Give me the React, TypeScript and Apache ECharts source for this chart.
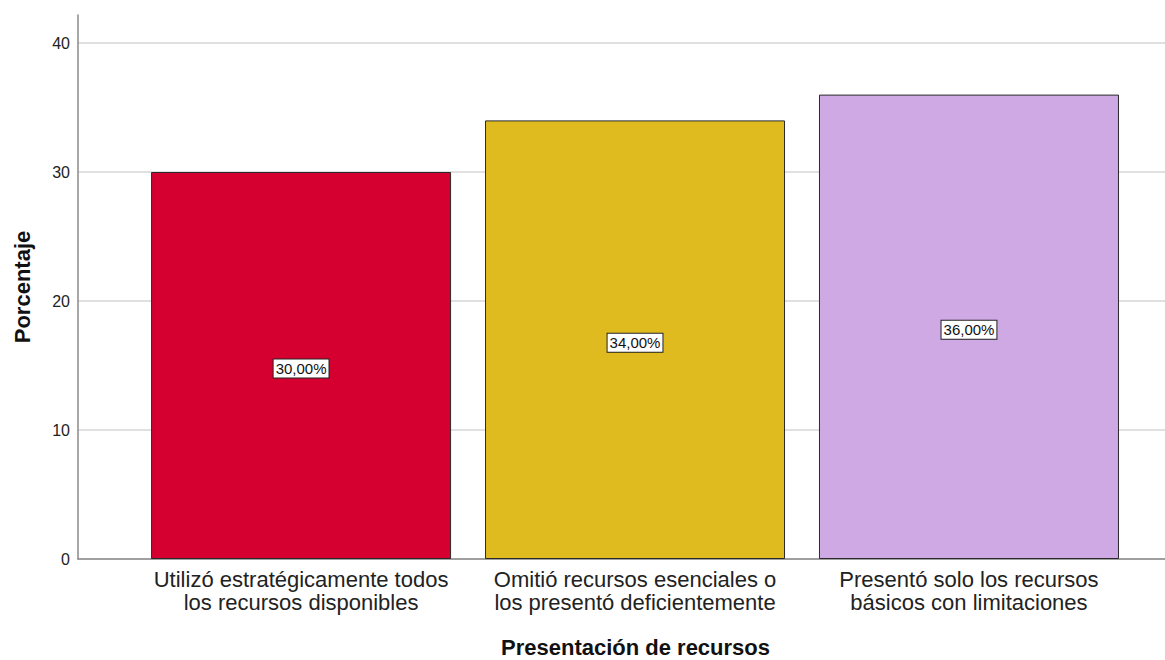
import React, { useEffect, useRef } from "react";
import * as echarts from "echarts";

const categories = [
  "Utilizó estratégicamente todos\nlos recursos disponibles",
  "Omitió recursos esenciales o\nlos presentó deficientemente",
  "Presentó solo los recursos\nbásicos con limitaciones",
];
const values = [30, 34, 36];
const colors = ["#d60030", "#dfbb1f", "#cfa9e4"];
const yTicks = [0, 10, 20, 30, 40];

const FONT = "'Liberation Sans', Arial, sans-serif";

export default function App() {
  const ref = useRef<HTMLDivElement>(null);
  useEffect(() => {
    document.body.style.margin = "0";
    document.body.style.overflow = "hidden";
    if (!ref.current) return;
    const chart = echarts.init(ref.current, null, { renderer: "svg" });
    const xMin = -0.668;
    const xMax = 2.587;
    chart.setOption({
      animation: false,
      grid: [
        { left: 78, right: 0, top: 43, bottom: 101, containLabel: false, outerBoundsMode: "none" },
        { left: 78, right: 0, top: 15, bottom: 101, containLabel: false, outerBoundsMode: "none" },
      ],
      xAxis: [
        {
          type: "value",
          gridIndex: 0,
          min: xMin,
          max: xMax,
          axisLine: { show: true, onZero: false, lineStyle: { color: "#8a8a8a", width: 1.5 } },
          axisTick: { show: false },
          splitLine: { show: false },
          axisLabel: {
            customValues: [0, 1, 2],
            formatter: (v: number) => categories[Math.round(v)] ?? "",
            fontSize: 22,
            lineHeight: 23,
            color: "#222",
            fontFamily: FONT,
            margin: 9,
            align: "center",
          },
          name: "Presentación de recursos",
          nameLocation: "middle",
          nameGap: 78,
          nameTextStyle: {
            fontSize: 22,
            lineHeight: 20,
            fontWeight: "bold",
            color: "#111",
            fontFamily: FONT,
            padding: [0, 0, 0, 28],
          },
        },
        {
          type: "value",
          gridIndex: 1,
          min: xMin,
          max: xMax,
          show: false,
        },
      ],
      yAxis: [
        {
          type: "value",
          gridIndex: 0,
          min: 0,
          max: yTicks[yTicks.length - 1],
          interval: 10,
          axisLine: { show: false },
          axisTick: { show: false },
          axisLabel: {
            fontSize: 16,
            color: "#222",
            fontFamily: FONT,
            margin: 8,
          },
          splitLine: { show: true, lineStyle: { color: "#d6d6d6", width: 1.5 } },
        },
        {
          type: "value",
          gridIndex: 1,
          min: 0,
          max: 42.17,
          axisLine: { show: true, onZero: false, lineStyle: { color: "#8a8a8a", width: 1.5 } },
          axisTick: { show: false },
          axisLabel: { show: false },
          splitLine: { show: false },
          name: "Porcentaje",
          nameLocation: "middle",
          nameGap: 45,
          nameTextStyle: {
            fontSize: 22,
            fontWeight: "bold",
            color: "#111",
            fontFamily: FONT,
          },
        },
      ],
      series: [
        {
          type: "bar",
          xAxisIndex: 0,
          yAxisIndex: 0,
          barWidth: 300,
          data: values.map((v, i) => ({
            value: [i, v],
            itemStyle: { color: colors[i], borderColor: "#2a2a2a", borderWidth: 1 },
          })),
          label: {
            show: true,
            position: "inside",
            offset: [0, 3],
            formatter: (p: any) => p.value[1].toFixed(2).replace(".", ",") + "%",
            fontSize: 15,
            color: "#111",
            fontFamily: FONT,
            backgroundColor: "#fff",
            borderColor: "#222",
            borderWidth: 1,
            padding: [2, 2, 1, 2],
          },
        },
      ],
    });
    return () => chart.dispose();
  }, []);
  return <div ref={ref} style={{ width: 1165, height: 660 }} />;
}
